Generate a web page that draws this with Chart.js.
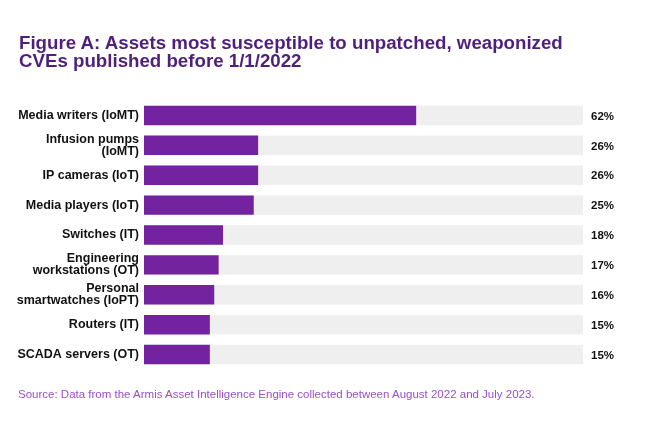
<!DOCTYPE html>
<html>
<head>
<meta charset="utf-8">
<script src="https://cdn.jsdelivr.net/npm/chart.js@4"></script>
<style>
  body { margin: 0; background: #fff; }
  #wrap { position: relative; width: 650px; height: 433px; font-family: "Liberation Sans", Arial, sans-serif; }
  #title { position: absolute; left: 19px; top: 34px; font-weight: bold; font-size: 18.7px; line-height: 17.5px; color: #4f1f7e; }
  #source { position: absolute; left: 18px; top: 388px; font-size: 11.5px; color: #9a4fc8; }
  #chart { position: absolute; left: 0; top: 0; }
</style>
</head>
<body>
<div id="wrap">
  <canvas id="chart" width="650" height="433"></canvas>
  <div id="title">Figure A: Assets most susceptible to unpatched, weaponized<br>CVEs published before 1/1/2022</div>
  <div id="source">Source: Data from the Armis Asset Intelligence Engine collected between August 2022 and July 2023.</div>
</div>
<script>
const categories = [
  'Media writers (IoMT)',
  ['Infusion pumps', '(IoMT)'],
  'IP cameras (IoT)',
  'Media players (IoT)',
  'Switches (IT)',
  ['Engineering', 'workstations (OT)'],
  ['Personal', 'smartwatches (IoPT)'],
  'Routers (IT)',
  'SCADA servers (OT)'
]
const values = [62, 26, 26, 25, 18, 17, 16, 15, 15]
const valueLabels = ['62%', '26%', '26%', '25%', '18%', '17%', '16%', '15%', '15%']
const axisMax = 100

const chartEl = document.getElementById('chart')

// gray track behind each bar + value text on the right
const barExtras = {
  id: 'barExtras',
  beforeDatasetsDraw(chart) {
    const ctx = chart.ctx
    const x = chart.scales.x
    const meta = chart.getDatasetMeta(0)
    ctx.save()
    ctx.fillStyle = '#efefef'
    meta.data.forEach(bar => {
      const left = x.getPixelForValue(0)
      const right = x.getPixelForValue(axisMax)
      ctx.fillRect(left, bar.y - bar.height / 2, right - left, bar.height)
    })
    ctx.restore()
  },
  afterDatasetsDraw(chart) {
    const ctx = chart.ctx
    const meta = chart.getDatasetMeta(0)
    const right = chart.scales.x.getPixelForValue(axisMax)
    ctx.save()
    ctx.font = 'bold 11.5px "Liberation Sans", Arial, sans-serif'
    ctx.fillStyle = '#111'
    ctx.textAlign = 'left'
    ctx.textBaseline = 'middle'
    meta.data.forEach((bar, i) => {
      ctx.fillText(valueLabels[i], right + 8, bar.y + 1)
    })
    ctx.restore()
  }
}

new Chart(chartEl, {
  type: 'bar',
  data: {
    labels: categories,
    datasets: [{
      data: values,
      backgroundColor: '#7322a0',
      barPercentage: 0.65,
      categoryPercentage: 1
    }]
  },
  options: {
    indexAxis: 'y',
    responsive: false,
    animation: false,
    layout: { padding: { top: 100.5, bottom: 63.5, left: 0, right: 67 } },
    plugins: {
      legend: { display: false },
      tooltip: { enabled: false }
    },
    scales: {
      x: { display: false, min: 0, max: axisMax },
      y: {
        grid: { display: false, drawTicks: false },
        border: { display: false },
        afterFit(scale) { scale.width = 144 },
        ticks: {
          color: '#111',
          padding: 5,
          font: { family: '"Liberation Sans", Arial, sans-serif', size: 12.5, weight: 'bold', lineHeight: 0.98 }
        }
      }
    }
  },
  plugins: [barExtras]
})
</script>
</body>
</html>
